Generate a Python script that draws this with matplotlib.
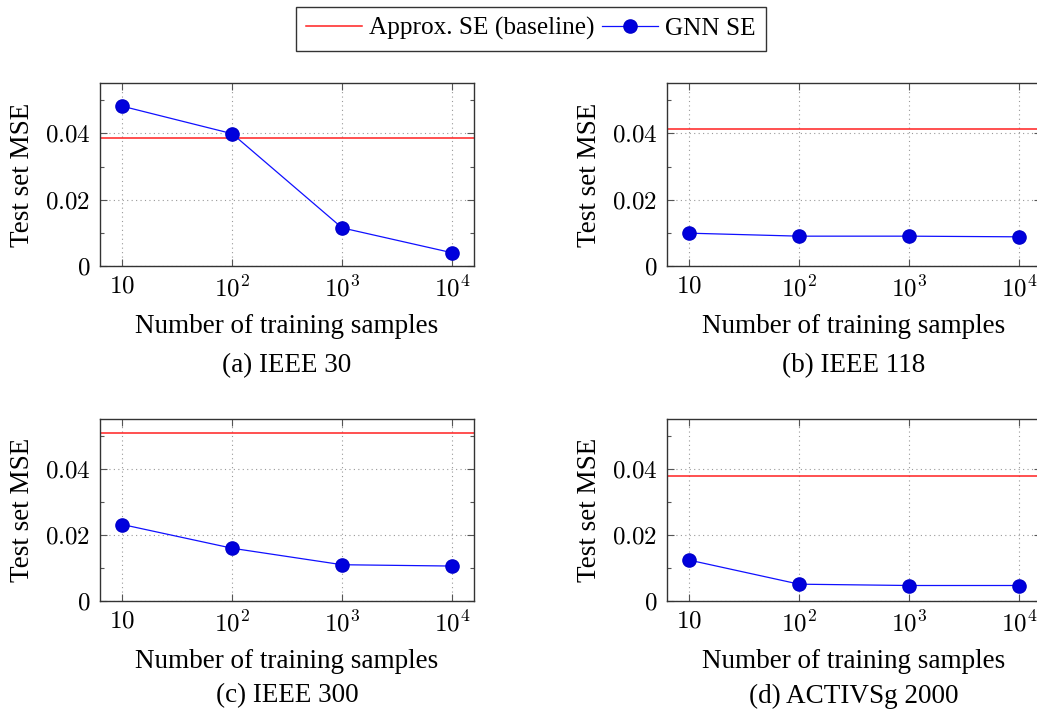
import matplotlib
matplotlib.use("Agg")
import matplotlib.pyplot as plt
from matplotlib.ticker import FixedLocator, FixedFormatter, NullLocator

plt.rcParams['font.family'] = ['Liberation Serif', 'DejaVu Serif']
plt.rcParams['mathtext.fontset'] = 'cm'

samples = [10, 100, 1000, 10000]
captions = ["(a) IEEE 30", "(b) IEEE 118", "(c) IEEE 300", "(d) ACTIVSg 2000"]
baseline = [0.0386, 0.0414, 0.0511, 0.0379]
gnn_a = [0.0482, 0.0399, 0.0115, 0.0040]
gnn_b = [0.0099, 0.0090, 0.0090, 0.0088]
gnn_c = [0.0232, 0.0160, 0.0110, 0.0106]
gnn_d = [0.0124, 0.0051, 0.0047, 0.0047]
gnn = [gnn_a, gnn_b, gnn_c, gnn_d]
xtick_labels = ["$10$", "$10^2$", "$10^3$", "$10^4$"]
ytick_vals = [0, 0.02, 0.04]
ytick_labels = ["$0$", "$0.02$", "$0.04$"]

fig = plt.figure(figsize=(10.37, 7.10), dpi=100)
W, H = 1037, 710
boxes = [(100, 83, 474, 266), (667, 83, 1041, 266),
         (100, 419, 474, 601), (667, 419, 1041, 601)]
cap_off = [100, 100, 95, 95]

fs = 19.5
tfs = 18
handles = None
for i, (l, t, r, b) in enumerate(boxes):
    ax = fig.add_axes([l / W, 1 - b / H, (r - l) / W, (b - t) / H])
    ax.set_xscale('log')
    ax.set_xlim(10 ** 0.797, 10 ** 4.2)
    ax.set_ylim(0, 0.0552)
    h1 = ax.axhline(baseline[i], color='#ff2020', lw=1.1, label='Approx. SE (baseline)')
    h2, = ax.plot(samples, gnn[i], color='#1010ff', lw=0.9, marker='o', markersize=9.5,
                  markerfacecolor='#0000dd', markeredgecolor='#0000cc',
                  label='GNN SE')
    handles = [h1, h2]
    ax.xaxis.set_major_locator(FixedLocator(samples))
    ax.xaxis.set_major_formatter(FixedFormatter(xtick_labels))
    ax.xaxis.set_minor_locator(NullLocator())
    ax.yaxis.set_major_locator(FixedLocator(ytick_vals))
    ax.yaxis.set_major_formatter(FixedFormatter(ytick_labels))
    ax.yaxis.set_minor_locator(FixedLocator([0.01, 0.03, 0.05]))
    ax.tick_params(which='both', direction='in', top=True, right=True,
                   color='#555555', labelsize=tfs, pad=7)
    ax.tick_params(which='major', length=5, width=0.8)
    ax.tick_params(which='minor', length=3, width=0.8)
    ax.grid(True, which='major', linestyle=(0, (1, 3)), color='#999999', lw=0.8)
    for s in ax.spines.values():
        s.set_color('#333333')
        s.set_linewidth(1.0)
    ax.set_xlabel("Number of training samples", fontsize=fs, labelpad=9)
    ax.set_ylabel("Test set MSE", fontsize=fs, labelpad=7)
    cx = (l + 374 / 2) / W
    fig.text(cx, 1 - (b + cap_off[i]) / H, captions[i], ha='center', va='center', fontsize=fs)

fig.legend(handles=handles, loc='upper center', bbox_to_anchor=(0.512, 0.997), ncol=2,
           fontsize=18.2, frameon=True, fancybox=False, edgecolor='black',
           handlelength=2.2, handletextpad=0.3, columnspacing=0.3,
           borderpad=0.4, borderaxespad=0.2)

fig.savefig("out.png", dpi=100)
